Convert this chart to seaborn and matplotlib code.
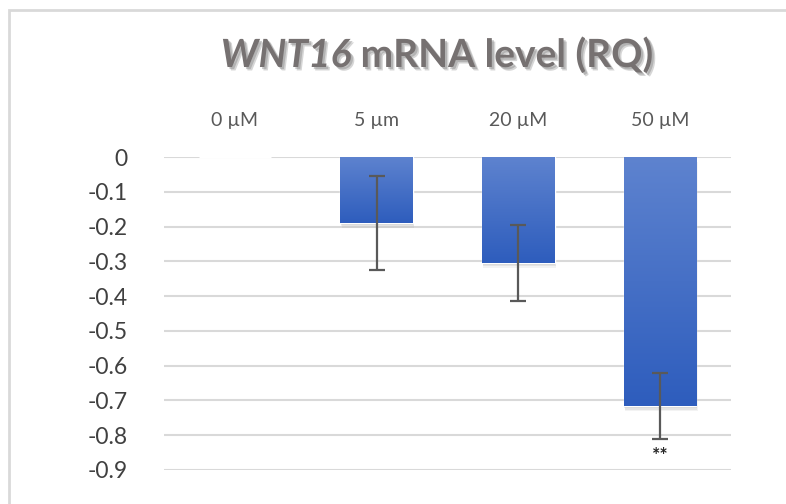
import numpy as np
import pandas as pd
import matplotlib
matplotlib.use("Agg")
import matplotlib.pyplot as plt
import matplotlib.patheffects as pe
from matplotlib.patches import Rectangle
from matplotlib.colors import LinearSegmentedColormap
import seaborn as sns

categories = ["0 µM", "5 µm", "20 µM", "50 µM"]
values = [0.0, -0.19, -0.305, -0.717]
errors = [0.0, 0.135, 0.11, 0.095]
significance = ["", "", "", "**"]
sig_y = [0, 0, 0, -0.857]
yticks = [0, -0.1, -0.2, -0.3, -0.4, -0.5, -0.6, -0.7, -0.8, -0.9]
ytick_labels = ["0", "-0.1", "-0.2", "-0.3", "-0.4", "-0.5", "-0.6", "-0.7", "-0.8", "-0.9"]

sns.set_theme(style="white")
plt.rcParams["font.family"] = ["Lato", "DejaVu Sans"]

fig = plt.figure(figsize=(7.86, 5.04), dpi=100)
ax = fig.add_axes([164/786, 1-470/504, (731-164)/786, (470-157)/504])

df = pd.DataFrame({"cat": categories, "val": values})
sns.barplot(data=df, x="cat", y="val", ax=ax, color="#3a66c4", width=0.51,
            errorbar=None, saturation=1, zorder=3)

ax.set_xlim(-0.5, 3.5)
ax.set_ylim(-0.9, 0)

# gradient fill + soft shadow for bars
cmap = LinearSegmentedColormap.from_list("g", ["#5e83cf", "#2e5dbd"])
grad = np.linspace(0, 1, 256).reshape(-1, 1)
for p in list(ax.patches):
    x0, y0 = p.get_x(), p.get_y()
    w, h = p.get_width(), p.get_height()
    if abs(h) < 1e-9:
        continue
    top = max(y0, y0 + h)
    bot = min(y0, y0 + h)
    for k, a in [(0.010, 0.06), (0.007, 0.08), (0.004, 0.10), (0.002, 0.12)]:
        sh = Rectangle((x0 + k * 0.8, bot - k * 1.4), w + k * 0.4, (top - bot),
                       facecolor="#404040", alpha=a, edgecolor="none", zorder=2)
        ax.add_patch(sh)
    im = ax.imshow(grad, cmap=cmap, aspect="auto", extent=(x0, x0 + w, bot, top),
                   zorder=4, origin="upper")
    im.set_clip_path(p)

xs = np.arange(len(categories))
mask = np.array(errors) > 0
ax.errorbar(xs[mask], np.array(values)[mask], yerr=np.array(errors)[mask], fmt="none",
            ecolor="#595959", elinewidth=1.6, capsize=6, capthick=1.6, zorder=6)

for i, s in enumerate(significance):
    if s:
        ax.text(i, sig_y[i], s, ha="center", va="center", fontsize=14,
                fontweight="bold", color="#262626", zorder=7)

ax.set_yticks(yticks)
ax.set_yticklabels(ytick_labels)
ax.yaxis.grid(True, color="#d9d9d9", linewidth=1.5, zorder=0)
ax.set_axisbelow(True)
ax.xaxis.tick_top()
ax.set_xlabel("")
ax.set_ylabel("")
ax.tick_params(axis="y", length=0, labelsize=16.5, labelcolor="#404040", pad=26)
ax.tick_params(axis="x", length=0, labelsize=14, labelcolor="#595959", pad=20)
for sp in ax.spines.values():
    sp.set_visible(False)

# figure border
fig.patches.append(Rectangle((9/786, -0.1), 1.1, 1 - 10/504 + 0.1, transform=fig.transFigure,
                             fill=False, edgecolor="#d9d9d9", linewidth=2, zorder=0))

# title
tcolor = "#767171"
peff = [pe.SimplePatchShadow(offset=(2.5, -2.5), shadow_rgbFace="#8a8a8a", alpha=0.35),
        pe.SimplePatchShadow(offset=(1.5, -1.5), shadow_rgbFace="#8a8a8a", alpha=0.45),
        pe.Normal()]
t1 = fig.text(0, 0, "WNT16", fontsize=28, fontweight="bold", style="italic", color=tcolor,
              path_effects=peff)
t2 = fig.text(0, 0, " mRNA level (RQ)", fontsize=28, fontweight="bold", color=tcolor,
              path_effects=peff)
fig.canvas.draw()
r = fig.canvas.get_renderer()
w1 = t1.get_window_extent(r).width
w2 = t2.get_window_extent(r).width
cx = 437
x_start = cx - (w1 + w2) / 2
ybase = 504 - 67
t1.set_position((x_start / 786, ybase / 504))
t2.set_position(((x_start + w1) / 786, ybase / 504))
t1.set_va("baseline")
t2.set_va("baseline")

fig.savefig("out.png", dpi=100)
